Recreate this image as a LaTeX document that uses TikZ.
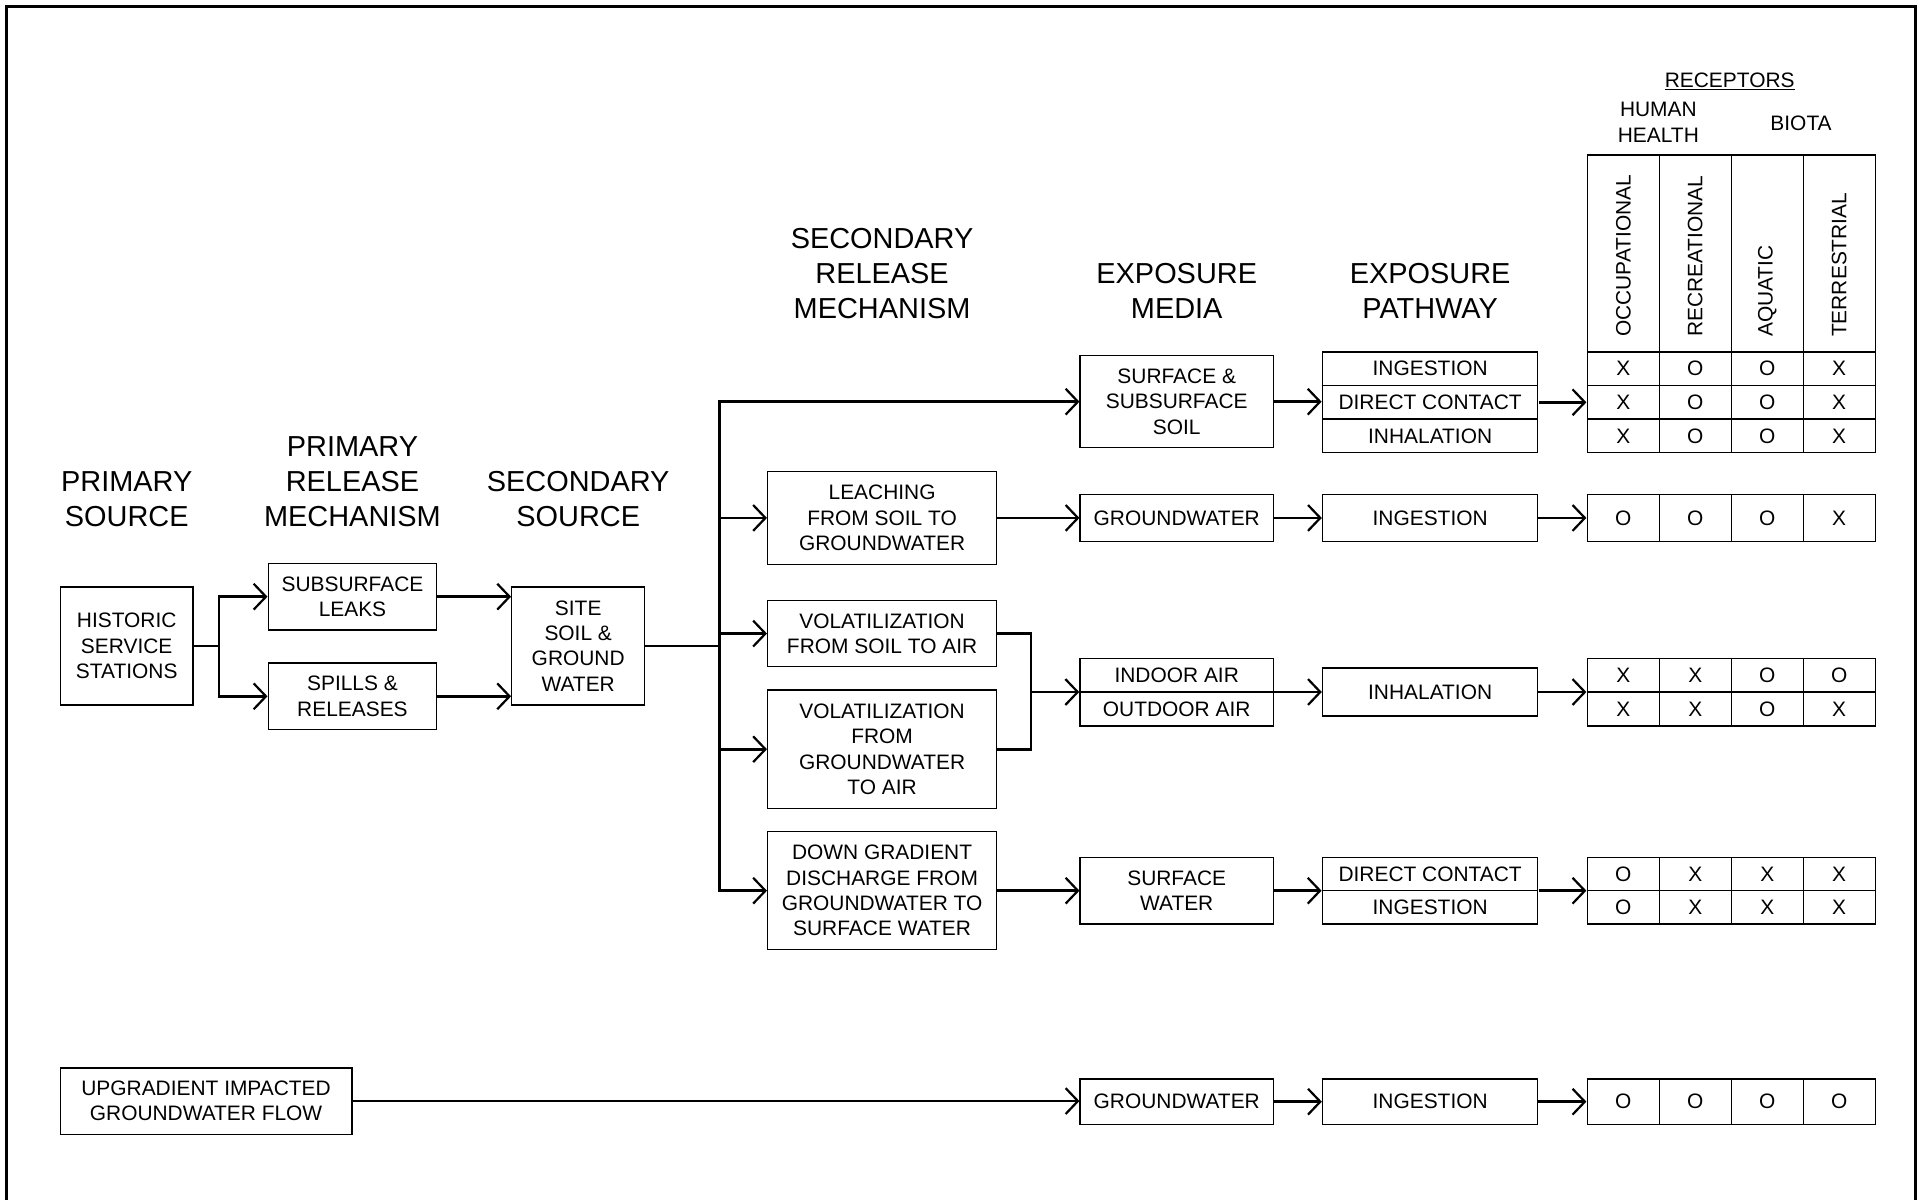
\documentclass[tikz,border=0pt]{standalone}
\usepackage{fontspec}
\setmainfont{Liberation Sans}
\usetikzlibrary{arrows.meta,fit}
\newcommand\bxf{\fontsize{17}{20.6}\selectfont}
\newcommand\hdf{\fontsize{23.5}{28.6}\selectfont}
\begin{document}
\begin{tikzpicture}[x=1pt,y=-1pt,
  box/.style={draw, line width=1.1pt, align=center, inner sep=0pt, font=\bxf},
  hdr/.style={align=center, font=\hdf, inner sep=0pt},
  lbl/.style={align=center, font=\bxf, inner sep=0pt},
  conn/.style={line width=2.2pt, -{Straight Barb[length=10pt,width=21pt,line width=1.8pt]}},
  plain/.style={line width=2.2pt},
  cell/.style={draw, line width=1.1pt, minimum width=58.5pt, inner sep=0pt, font=\bxf},
  grp/.style={inner sep=0pt, draw=none},
]
\useasboundingbox (0,0) rectangle (1568,975);
\draw[line width=2.5pt] (5,990) -- (5,5) -- (1557,5) -- (1557,990);

% headers
\node[hdr] (hps) at (103,405.5) {PRIMARY\\SOURCE};
\node[hdr] (hprm) at (286.5,391.5) {PRIMARY\\RELEASE\\MECHANISM};
\node[hdr] (hss) at (470,405.5) {SECONDARY\\SOURCE};
\node[hdr] (hsrm) at (717,222.5) {SECONDARY\\RELEASE\\MECHANISM};
\node[hdr] (hem) at (956.5,236.5) {EXPOSURE\\MEDIA};
\node[hdr] (hep) at (1162.5,236.5) {EXPOSURE\\PATHWAY};
\node[lbl] (hrec) at (1406,66) {\underline{RECEPTORS}};
\node[lbl] (hhh) at (1348,99.5) {HUMAN\\HEALTH};
\node[lbl] (hbio) at (1464,100) {BIOTA};

% boxes
\node[box, minimum width=108pt, minimum height=96pt] (hist) at (103,525) {HISTORIC\\SERVICE\\STATIONS};
\node[box, minimum width=137pt, minimum height=54pt] (leaks) at (286.5,485) {SUBSURFACE\\LEAKS};
\node[box, minimum width=137pt, minimum height=54pt] (spills) at (286.5,566) {SPILLS \&\\RELEASES};
\node[box, minimum width=108pt, minimum height=96pt] (site) at (470,525) {SITE\\SOIL \&\\GROUND\\WATER};

\node[box, minimum width=186pt, minimum height=76pt] (leach) at (717,421) {LEACHING\\FROM SOIL TO\\GROUNDWATER};
\node[box, minimum width=186pt, minimum height=54pt] (vsoil) at (717,515) {VOLATILIZATION\\FROM SOIL TO AIR};
\node[box, minimum width=186pt, minimum height=96pt] (vgw) at (717,609) {VOLATILIZATION\\FROM\\GROUNDWATER\\TO AIR};
\node[box, minimum width=186pt, minimum height=96pt] (down) at (717,724) {DOWN GRADIENT\\DISCHARGE FROM\\GROUNDWATER TO\\SURFACE WATER};

\node[box, minimum width=157pt, minimum height=75pt] (soil) at (956.5,326.5) {SURFACE \&\\SUBSURFACE\\SOIL};
\node[box, minimum width=157pt, minimum height=38pt] (gw) at (956.5,421) {GROUNDWATER};
\node[box, minimum width=157pt, minimum height=27.5pt] (indoor) at (956.5,548.75) {INDOOR AIR};
\node[box, minimum width=157pt, minimum height=27.5pt] (outdoor) at (956.5,576.25) {OUTDOOR AIR};
\node[grp, fit=(indoor)(outdoor)] (air) {};
\node[box, minimum width=157pt, minimum height=54pt] (sw) at (956.5,724) {SURFACE\\WATER};
\node[box, minimum width=157pt, minimum height=37pt] (gw2) at (956.5,895.5) {GROUNDWATER};

\node[box, minimum width=237pt, minimum height=54pt] (upg) at (167.5,895) {UPGRADIENT IMPACTED\\GROUNDWATER FLOW};

% pathways
\node[box, minimum width=175pt, minimum height=27.33pt] (p1a) at (1162.5,299.67) {INGESTION};
\node[box, minimum width=175pt, minimum height=27.33pt] (p1b) at (1162.5,327) {DIRECT CONTACT};
\node[box, minimum width=175pt, minimum height=27.33pt] (p1c) at (1162.5,354.33) {INHALATION};
\node[grp, fit=(p1a)(p1c)] (p1) {};
\node[box, minimum width=175pt, minimum height=38pt] (p2) at (1162.5,421) {INGESTION};
\node[box, minimum width=175pt, minimum height=39pt] (p3) at (1162.5,562.5) {INHALATION};
\node[box, minimum width=175pt, minimum height=27pt] (p4a) at (1162.5,710.5) {DIRECT CONTACT};
\node[box, minimum width=175pt, minimum height=27pt] (p4b) at (1162.5,737.5) {INGESTION};
\node[grp, fit=(p4a)(p4b)] (p4) {};
\node[box, minimum width=175pt, minimum height=37pt] (p5) at (1162.5,895.5) {INGESTION};

% receptor table header
\foreach \c [count=\i] in {OCCUPATIONAL,RECREATIONAL,AQUATIC,TERRESTRIAL} {
  \node[cell, minimum height=160pt] (h\i) at ({1319.5+58.5*(\i-1)},206) {};
  \node[lbl, rotate=90, anchor=west] (ht\i) at ({1319.5+58.5*(\i-1)},274) {\c};
}
% receptor table rows
\foreach \r/\y/\h/\a/\b/\c/\d in {1/299.67/27.33/X/O/O/X, 2/327/27.33/X/O/O/X, 3/354.33/27.33/X/O/O/X, 4/421/38/O/O/O/X, 5/548.75/27.5/X/X/O/O, 6/576.25/27.5/X/X/O/X, 7/710.5/27/O/X/X/X, 8/737.5/27/O/X/X/X, 9/895.5/37/O/O/O/O} {
  \node[cell, minimum height=\h*1pt] (c\r-1) at (1319.5,\y) {\a};
  \node[cell, minimum height=\h*1pt] (c\r-2) at (1378,\y) {\b};
  \node[cell, minimum height=\h*1pt] (c\r-3) at (1436.5,\y) {\c};
  \node[cell, minimum height=\h*1pt] (c\r-4) at (1495,\y) {\d};
}
\node[grp, fit=(c1-1)(c3-4)] (t1) {};
\node[grp, fit=(c4-1)(c4-4)] (t2) {};
\node[grp, fit=(c5-1)(c6-4)] (t3) {};
\node[grp, fit=(c7-1)(c8-4)] (t4) {};
\node[grp, fit=(c9-1)(c9-4)] (t5) {};

% connectors
\coordinate (j1) at (178,525);
\draw[plain] (hist.east) -- (j1);
\draw[conn] (j1) |- (leaks.west);
\draw[conn] (j1) |- (spills.west);
\draw[conn] (leaks.east) -- (leaks.east -| site.west);
\draw[conn] (spills.east) -- (spills.east -| site.west);

\coordinate (trunk) at (585,525);
\draw[plain] (site.east) -- (trunk);
\draw[conn] (trunk) |- (soil.west);
\draw[conn] (trunk) |- (leach.west);
\draw[conn] (trunk) |- (vsoil.west);
\draw[conn] (trunk) |- (vgw.west);
\draw[conn] (trunk) |- (down.west);

\draw[conn] (leach.east) -- (gw.west);
\coordinate (j2) at (838,562.5);
\draw[plain] (vsoil.east) -| (j2);
\draw[plain] (vgw.east) -| (j2);
\draw[conn] (j2) -- (air.west);
\draw[conn] (down.east) -- (sw.west);
\draw[conn] (upg.east) -- (upg.east -| gw2.west);

\draw[conn] (soil.east) -- (soil.east -| p1.west);
\draw[conn] (gw.east) -- (p2.west);
\draw[conn] (air.east) -- (p3.west);
\draw[conn] (sw.east) -- (p4.west);
\draw[conn] (gw2.east) -- (p5.west);

\draw[conn] (p1.east) -- (t1.west);
\draw[conn] (p2.east) -- (t2.west);
\draw[conn] (p3.east) -- (t3.west);
\draw[conn] (p4.east) -- (t4.west);
\draw[conn] (p5.east) -- (t5.west);
\end{tikzpicture}
\end{document}
